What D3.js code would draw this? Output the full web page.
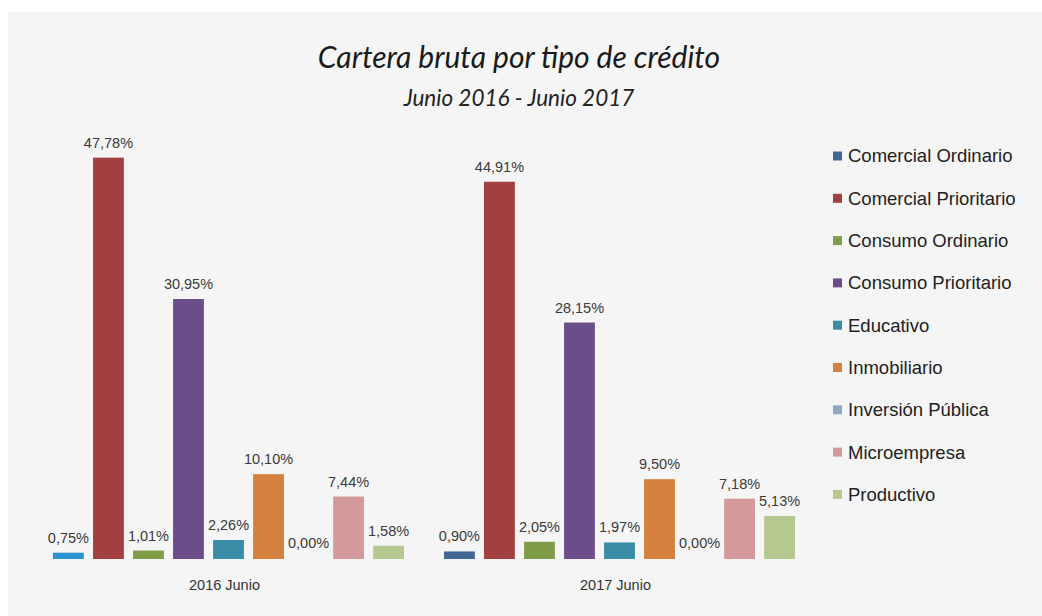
<!DOCTYPE html>
<html>
<head>
<meta charset="utf-8">
<script src="https://cdn.jsdelivr.net/npm/d3@7"></script>
<style>
  body { margin: 0; background: #ffffff; }
  svg { display: block; }
</style>
</head>
<body>
<div id="chartDiv"></div>
<script>
// data
var groups = ["2016 Junio", "2017 Junio"];
var series = ["Comercial Ordinario", "Comercial Prioritario", "Consumo Ordinario",
              "Consumo Prioritario", "Educativo", "Inmobiliario",
              "Inversión Pública", "Microempresa", "Productivo"];
var values2016 = [0.75, 47.78, 1.01, 30.95, 2.26, 10.10, 0.00, 7.44, 1.58];
var values2017 = [0.90, 44.91, 2.05, 28.15, 1.97, 9.50, 0.00, 7.18, 5.13];
var seriesColors = ["#416895", "#a33f3f", "#7f9c48", "#6b4d8a", "#3a8ba6",
                    "#d5813d", "#8fa8c6", "#d49a9b", "#b5c88f"];

var allValues = [values2016, values2017];

var W = 1042, H = 616;
var baseY = 559;

var svg = d3.select("#chartDiv").append("svg")
    .attr("width", W)
    .attr("height", H);

// light grey panel
svg.append("rect")
    .attr("x", 8).attr("y", 12)
    .attr("width", W - 8).attr("height", H - 12)
    .attr("fill", "#f5f5f5");

// titles
svg.append("text")
    .attr("x", 519).attr("y", 68)
    .attr("text-anchor", "middle")
    .style("font-family", "Lato, 'Open Sans', sans-serif")
    .style("font-style", "italic")
    .style("font-size", "30px")
    .style("fill", "#1a1a1a")
    .text("Cartera bruta por tipo de crédito");

svg.append("text")
    .attr("x", 519).attr("y", 106)
    .attr("text-anchor", "middle")
    .style("font-family", "Lato, 'Open Sans', sans-serif")
    .style("font-style", "italic")
    .style("font-size", "22.5px")
    .style("fill", "#222")
    .text("Junio 2016 - Junio 2017");

var x0 = d3.scaleBand()
    .domain(groups)
    .range([33, 815])
    .padding(0);

var x1 = d3.scaleBand()
    .domain(series)
    .range([0, x0.bandwidth()])
    .paddingInner(0.23)
    .paddingOuter(0.5);

var y = d3.scaleLinear()
    .domain([0, 50])
    .range([baseY, baseY - 50 * 8.4]);

var color = d3.scaleOrdinal().domain(series).range(seriesColors);

var fmt = function(v) { return d3.format(".2f")(v).replace(".", ",") + "%"; };

var groupG = svg.selectAll(".group").data(groups).enter()
    .append("g").attr("class", "group")
    .attr("transform", function(d) { return "translate(" + x0(d) + ",0)"; });

var cells = groupG.selectAll(".cell")
    .data(function(g, gi) {
      return series.map(function(s, si) { return {g: g, gi: gi, s: s, si: si, v: allValues[gi][si]}; });
    })
    .enter().append("g").attr("class", "cell");

cells.filter(function(d) { return d.v > 0; })
    .append("rect")
    .attr("x", function(d) { return x1(d.s); })
    .attr("y", function(d) { return y(d.v); })
    .attr("width", x1.bandwidth())
    .attr("height", function(d) { return baseY - y(d.v); })
    .attr("fill", function(d) {
      // the 2016 "Comercial Ordinario" bar is a brighter blue in the original
      if (d.gi === 0 && d.si === 0) return "#2a93d2";
      return color(d.s);
    });

cells.append("text")
    .attr("x", function(d) { return x1(d.s) + x1.bandwidth() / 2; })
    .attr("y", function(d) { return Math.min(y(d.v) - 10, baseY - 11); })
    .attr("text-anchor", "middle")
    .style("font-family", "'Liberation Sans', Arial, sans-serif")
    .style("font-size", "14.5px")
    .style("fill", "#3a3a3a")
    .text(function(d) { return fmt(d.v); });

// category labels
svg.selectAll(".catLabel").data(groups).enter()
    .append("text").attr("class", "catLabel")
    .attr("x", function(d) { return x0(d) + x0.bandwidth() / 2 - 4; })
    .attr("y", 590)
    .attr("text-anchor", "middle")
    .style("font-family", "'Liberation Sans', Arial, sans-serif")
    .style("font-size", "14.5px")
    .style("fill", "#333")
    .text(function(d) { return d; });

// legend
var legend = svg.append("g").attr("transform", "translate(833,156)");
var item = legend.selectAll(".item").data(series).enter()
    .append("g").attr("class", "item")
    .attr("transform", function(d, i) { return "translate(0," + (i * 42.3) + ")"; });

item.append("rect")
    .attr("x", 0).attr("y", -4.5)
    .attr("width", 9).attr("height", 9)
    .attr("fill", function(d) { return color(d); });

item.append("text")
    .attr("x", 15).attr("y", 0)
    .attr("dy", "0.35em")
    .style("font-family", "'Liberation Sans', Arial, sans-serif")
    .style("font-size", "18.5px")
    .style("fill", "#222")
    .text(function(d) { return d; });
</script>
</body>
</html>
